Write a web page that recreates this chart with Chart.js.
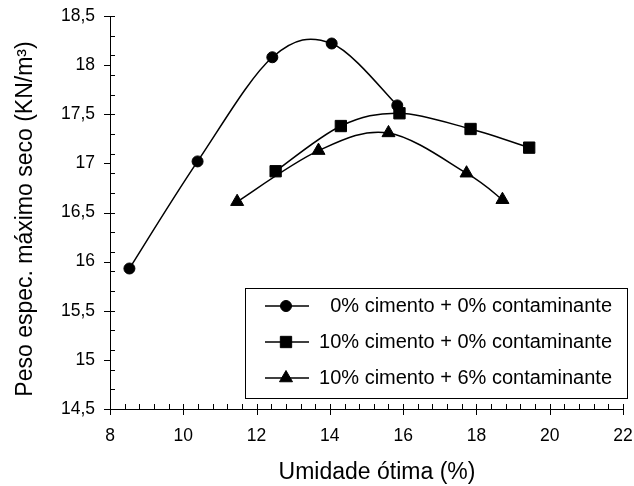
<!DOCTYPE html>
<html>
<head>
<meta charset="utf-8">
<script src="https://cdn.jsdelivr.net/npm/chart.js@4.4.0/dist/chart.umd.min.js"></script>
<style>
  html, body { margin: 0; padding: 0; background: #ffffff; }
  #wrap { width: 634px; height: 486px; }
</style>
</head>
<body>
<div id="wrap"><canvas id="c" width="634" height="486"></canvas></div>
<script>
// Compaction curves: optimum moisture (%) vs. maximum dry unit weight (kN/m³)
const seriesNames = [
  '0% cimento + 0% contaminante',
  '10% cimento + 0% contaminante',
  '10% cimento + 6% contaminante'
];

const umidadeSolo = [8.53, 10.39, 12.43, 14.05, 15.84];
const pesoSolo    = [15.93, 17.02, 18.08, 18.22, 17.59];

const umidadeCimento = [12.52, 14.30, 15.90, 17.84, 19.44];
const pesoCimento    = [16.92, 17.38, 17.51, 17.35, 17.16];

const umidadeContam = [11.47, 13.69, 15.60, 17.73, 18.71];
const pesoContam    = [16.61, 17.13, 17.31, 16.90, 16.63];

const xTickLabels = ['8', '10', '12', '14', '16', '18', '20', '22'];
const yTickLabels = ['14,5', '15', '15,5', '16', '16,5', '17', '17,5', '18', '18,5'];

const xTitle = 'Umidade ótima (%)';
const yTitle = 'Peso espec. máximo seco (KN/m³)';

const FONT = "'Liberation Sans', Arial, sans-serif";

function toPoints(xs, ys) {
  return xs.map((x, i) => ({ x: x, y: ys[i] }));
}

const pointStyles = ['circle', 'rect', 'triangle'];
const pointSizes = [5.5, 8, 7.5];

const datasets = [
  toPoints(umidadeSolo, pesoSolo),
  toPoints(umidadeCimento, pesoCimento),
  toPoints(umidadeContam, pesoContam)
].map((pts, i) => ({
  label: seriesNames[i],
  data: pts,
  showLine: true,
  tension: 0.4,
  cubicInterpolationMode: 'default',
  borderColor: '#000000',
  borderWidth: 1.5,
  pointStyle: pointStyles[i],
  pointRadius: pointSizes[i],
  pointBackgroundColor: '#000000',
  pointBorderColor: '#000000',
  pointBorderWidth: 1
}));

// Keep the plot area fixed: no extra room reserved for overhanging tick labels
function fixBox(size, isX) {
  return function (scale) {
    if (isX) { scale.height = size; } else { scale.width = size; }
    scale.paddingTop = 0;
    scale.paddingBottom = 0;
    scale.paddingLeft = 0;
    scale.paddingRight = 0;
  };
}

// Spreadsheet-style smoothing: uniform Catmull-Rom handles (1/6 of the
// neighbour chord), each handle limited to half of its own segment.
const smoothLines = {
  id: 'smoothLines',
  afterDatasetsUpdate(chart) {
    chart.data.datasets.forEach((ds, di) => {
      const meta = chart.getDatasetMeta(di);
      const pts = meta.data;
      const n = pts.length;
      for (let i = 0; i < n; i++) {
        const p = pts[i];
        const prev = pts[Math.max(i - 1, 0)];
        const next = pts[Math.min(i + 1, n - 1)];
        const tx = (next.x - prev.x) / 6;
        const ty = (next.y - prev.y) / 6;
        const tl = Math.hypot(tx, ty);
        const dPrev = Math.hypot(p.x - prev.x, p.y - prev.y);
        const dNext = Math.hypot(next.x - p.x, next.y - p.y);
        const sb = (tl > 0 && tl > dPrev / 2) ? dPrev / 2 / tl : 1;
        const sf = (tl > 0 && tl > dNext / 2) ? dNext / 2 / tl : 1;
        p.cp1x = p.x - tx * sb;
        p.cp1y = p.y - ty * sb;
        p.cp2x = p.x + tx * sf;
        p.cp2y = p.y + ty * sf;
      }
      meta.dataset._pointsUpdated = true;
    });
  }
};

// Tick marks (major outside, minor inside), axis titles and the boxed legend
const decorations = {
  id: 'decorations',
  afterDraw(chart) {
    const ctx = chart.ctx;
    const xs = chart.scales.x;
    const ys = chart.scales.y;
    const area = chart.chartArea;
    ctx.save();
    ctx.strokeStyle = '#000000';
    ctx.lineWidth = 1;

    // y axis: majors every 0.5 to the left, minors every 0.2 to the right
    ctx.beginPath();
    for (let k = 0; k <= 8; k++) {
      const py = Math.round(ys.getPixelForValue(14.5 + k * 0.5)) + 0.5;
      ctx.moveTo(area.left - 6, py);
      ctx.lineTo(area.left, py);
    }
    for (let k = 0; k <= 20; k++) {
      const py = Math.round(ys.getPixelForValue(14.5 + k * 0.2)) + 0.5;
      ctx.moveTo(area.left, py);
      ctx.lineTo(area.left + 5, py);
    }
    // x axis: majors every 2 below, minors every 0.4 above
    for (let k = 0; k <= 7; k++) {
      const px = Math.round(xs.getPixelForValue(8 + k * 2)) + 0.5;
      ctx.moveTo(px, area.bottom);
      ctx.lineTo(px, area.bottom + 6);
    }
    for (let k = 0; k <= 35; k++) {
      const px = Math.round(xs.getPixelForValue(8 + k * 0.4)) + 0.5;
      ctx.moveTo(px, area.bottom);
      ctx.lineTo(px, area.bottom - 5);
    }
    ctx.stroke();

    // axis titles
    ctx.fillStyle = '#000000';
    ctx.font = '23px ' + FONT;
    ctx.textAlign = 'center';
    ctx.textBaseline = 'alphabetic';
    ctx.fillText(xTitle, 377, 479);
    ctx.save();
    ctx.translate(32, 219);
    ctx.rotate(-Math.PI / 2);
    ctx.fillText(yTitle, 0, 0);
    ctx.restore();

    // legend box
    ctx.fillStyle = '#ffffff';
    ctx.fillRect(245.5, 288.5, 382, 110);
    ctx.strokeRect(245.5, 288.5, 382, 110);
    const rows = [306, 342, 378];
    chart.data.datasets.forEach((ds, i) => {
      const y = rows[i];
      ctx.strokeStyle = ds.borderColor;
      ctx.lineWidth = ds.borderWidth;
      ctx.beginPath();
      ctx.moveTo(265, y);
      ctx.lineTo(309, y);
      ctx.stroke();
      ctx.fillStyle = ds.pointBackgroundColor;
      ctx.strokeStyle = ds.pointBorderColor;
      ctx.lineWidth = ds.pointBorderWidth;
      Chart.helpers.drawPoint(ctx, {
        pointStyle: ds.pointStyle,
        radius: ds.pointRadius,
        rotation: 0,
        borderWidth: ds.pointBorderWidth
      }, 286, y);
      ctx.fillStyle = '#000000';
      ctx.font = '20px ' + FONT;
      ctx.textAlign = 'right';
      ctx.textBaseline = 'middle';
      ctx.fillText(ds.label, 612, y);
    });
    ctx.restore();
  }
};

new Chart(document.getElementById('c'), {
  type: 'scatter',
  data: { datasets: datasets },
  options: {
    responsive: false,
    animation: false,
    layout: { padding: { top: 16, right: 11, left: 0, bottom: 0 } },
    plugins: {
      legend: { display: false },
      tooltip: { enabled: false }
    },
    scales: {
      x: {
        type: 'linear',
        min: 8,
        max: 22,
        ticks: {
          stepSize: 2,
          padding: 17,
          color: '#000000',
          font: { family: FONT, size: 17.5 },
          callback: (v, i) => xTickLabels[i]
        },
        grid: { display: true, drawOnChartArea: false, drawTicks: false },
        border: { display: true, color: '#000000', width: 1 },
        afterFit: fixBox(77, true)
      },
      y: {
        type: 'linear',
        min: 14.5,
        max: 18.5,
        ticks: {
          stepSize: 0.5,
          padding: 15,
          color: '#000000',
          font: { family: FONT, size: 17.5 },
          callback: (v, i) => yTickLabels[i]
        },
        grid: { display: true, drawOnChartArea: false, drawTicks: false },
        border: { display: true, color: '#000000', width: 1 },
        afterFit: fixBox(110, false)
      }
    }
  },
  plugins: [smoothLines, decorations]
});
</script>
</body>
</html>
